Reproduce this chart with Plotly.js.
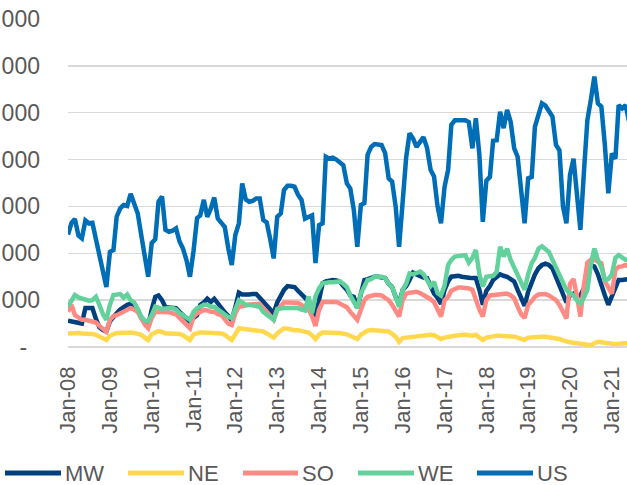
<!DOCTYPE html>
<html>
<head>
<meta charset="utf-8">
<script src="https://cdn.plot.ly/plotly-3.0.1.min.js"></script>
<style>
  html, body { margin: 0; padding: 0; background: #ffffff; }
  #chart { width: 627px; height: 485px; }
</style>
</head>
<body>
<div id="chart"></div>
<script>
// ---- Data (monthly, Jan-2008 .. Jun-2021) ----
const seriesNames = ["MW", "NE", "SO", "WE", "US"];
const startYear = 2008;

const MW = [
  560, 550, 540, 520, 500, 830, 840, 830, 600, 420, 360, 330,
  550, 650, 720, 800, 850, 900, 920, 900, 800, 620, 520, 460,
  800, 1070, 1100, 1000, 850, 850, 850, 830, 750, 680, 600, 540,
  620, 680, 900, 950, 1030, 960, 1030, 920, 850, 740, 660, 570,
  850, 1160, 1120, 1110, 1120, 1130, 1130, 1050, 960, 900, 820, 720,
  950, 1110, 1220, 1300, 1290, 1280, 1200, 1140, 1050, 960, 900, 650,
  960, 1360, 1400, 1420, 1430, 1420, 1400, 1300, 1220, 1100, 1070, 830,
  1140, 1430, 1450, 1480, 1500, 1500, 1480, 1470, 1350, 1280, 1070, 920,
  1220, 1300, 1430, 1590, 1550, 1500, 1480, 1470, 1280, 1140, 1050, 920,
  1220, 1400, 1500, 1510, 1520, 1500, 1500, 1480, 1470, 1470, 1220, 900,
  1200, 1300, 1430, 1480, 1550, 1520, 1500, 1450, 1400, 1220, 1050, 880,
  1180, 1400, 1550, 1680, 1750, 1780, 1750, 1680, 1500, 1300, 1150, 950,
  1100, 1140, 1080, 1100, 1250, 1570, 1750, 1720, 1550, 1300, 1100, 900,
  1070, 1250, 1430, 1430, 1450, 1450
];

const NE = [
  290, 300, 310, 300, 290, 290, 290, 280, 260, 230, 180, 150,
  240, 280, 300, 300, 310, 310, 310, 300, 280, 260, 200, 150,
  270, 310, 340, 320, 290, 290, 290, 290, 280, 250, 200, 150,
  270, 300, 310, 310, 310, 300, 290, 290, 290, 260, 200, 150,
  270, 400, 390, 380, 380, 370, 370, 360, 330, 290, 240, 200,
  290, 350, 400, 390, 370, 360, 360, 350, 330, 310, 250, 170,
  260, 310, 310, 300, 300, 300, 300, 290, 270, 240, 210, 170,
  260, 300, 350, 360, 350, 340, 340, 340, 330, 280, 220, 110,
  190, 200, 210, 220, 220, 230, 240, 250, 260, 250, 200, 170,
  200, 220, 230, 240, 250, 260, 260, 250, 240, 260, 200, 150,
  200, 220, 230, 240, 240, 240, 230, 220, 220, 200, 170, 150,
  200, 210, 210, 220, 220, 220, 210, 200, 190, 170, 140, 110,
  100, 90, 80, 70, 60, 50, 40, 80, 110, 100, 90, 80,
  60, 60, 70, 70, 80, 80
];

const SO = [
  750, 900, 680, 620, 580, 580, 560, 540, 520, 450, 400, 330,
  580, 660, 680, 720, 750, 780, 830, 800, 750, 620, 480, 400,
  620, 750, 750, 750, 750, 740, 720, 700, 620, 550, 450, 400,
  650, 720, 750, 790, 780, 750, 750, 700, 680, 600, 500, 470,
  720, 860, 880, 900, 900, 910, 920, 920, 830, 750, 650, 580,
  790, 880, 950, 950, 950, 940, 940, 900, 830, 800, 650, 450,
  790, 960, 960, 960, 960, 960, 930, 900, 850, 750, 650, 580,
  790, 1000, 1070, 1100, 1110, 1110, 1100, 1050, 1000, 900, 780, 650,
  1000, 1140, 1160, 1180, 1180, 1150, 1110, 1080, 1020, 960, 820, 650,
  1000, 1070, 1200, 1250, 1270, 1270, 1270, 1250, 1220, 1000, 800, 650,
  1000, 1100, 1110, 1120, 1140, 1140, 1140, 1100, 1040, 860, 700, 620,
  900, 980, 1070, 1120, 1130, 1130, 1100, 1050, 1000, 900, 750, 610,
  1350, 1450, 1100, 650, 1300, 1800, 1860, 1860, 1820, 1790, 1400, 1250,
  1140, 1650, 1710, 1720, 1750, 1720
];

const WE = [
  860, 1000, 1110, 1060, 1040, 1000, 990, 1000, 1070, 900, 700, 580,
  900, 1110, 1120, 1130, 1050, 1120, 1000, 950, 810, 650, 560, 550,
  680, 860, 840, 810, 820, 830, 830, 800, 720, 680, 620, 580,
  750, 830, 860, 900, 900, 860, 860, 800, 750, 700, 640, 620,
  810, 1000, 950, 900, 900, 880, 860, 860, 750, 700, 620, 580,
  810, 830, 830, 830, 830, 830, 830, 800, 780, 1080, 720, 1080,
  1250, 1360, 1380, 1380, 1380, 1400, 1400, 1350, 1280, 1100, 950, 830,
  1140, 1300, 1430, 1450, 1500, 1500, 1500, 1470, 1350, 1280, 1050, 860,
  1220, 1350, 1570, 1550, 1580, 1610, 1550, 1400, 1300, 1390, 1150, 1100,
  1310, 1750, 1860, 1930, 1930, 1950, 1960, 1800, 1900, 2070, 1550, 1290,
  1500, 1520, 1520, 1600, 2140, 1930, 2100, 1860, 1700, 1570, 1400, 1220,
  1550, 1790, 1900, 2100, 2150, 2100, 2030, 1860, 1700, 1570, 1400, 1220,
  1150, 1100, 1000, 930, 1050, 1220, 1750, 2100, 1860, 1700, 1430, 1450,
  1550, 1900, 1960, 1900, 1860, 1860
];

const US = [
  2400, 2650, 2730, 2380, 2320, 2700, 2640, 2650, 2300, 1950, 1600, 1280,
  2030, 2070, 2780, 2960, 3030, 3010, 3270, 3070, 2850, 2400, 1950, 1500,
  2220, 2300, 3100, 3210, 2500, 2460, 2480, 2530, 2250, 2100, 1850, 1500,
  2050, 2750, 2810, 3140, 2780, 2950, 3190, 2740, 2650, 2560, 2100, 1750,
  2390, 2640, 3490, 3150, 3100, 3120, 3170, 3170, 2710, 2660, 2300, 1890,
  2780, 2850, 3350, 3440, 3440, 3420, 3250, 3140, 2740, 2780, 2810, 1790,
  2600, 2640, 4060, 4020, 4040, 4000, 3950, 3880, 3490, 3380, 2920, 2140,
  3030, 3070, 4100, 4270, 4330, 4320, 4310, 4140, 3600, 3530, 3000, 2140,
  3100, 4050, 4560, 4450, 4270, 4400, 4480, 4250, 3780, 3640, 3000, 2640,
  3420, 3780, 4740, 4840, 4840, 4840, 4840, 4800, 4240, 4880, 4100, 2670,
  3550, 3630, 4400, 4410, 5020, 4670, 5060, 4810, 4240, 4060, 3300, 2640,
  3600, 3630, 4700, 4950, 5200, 5150, 5050, 4920, 4310, 4200, 3000, 2640,
  3670, 4020, 3280, 2500, 3700, 4840, 5270, 5770, 5200, 5130, 4300, 3280,
  4130, 4020, 5160, 5090, 5160, 4800
];

const yTickVals = [0, 1000, 2000, 3000, 4000, 5000, 6000, 7000];
const yTickText = ["-\u00a0\u00a0", "1,000", "2,000", "3,000", "4,000", "5,000", "6,000", "7,000"];

// ---- Styling ----
const colors = ["#00407F", "#FFD84D", "#FF8A84", "#62D19C", "#006DB7"];
const FONT = "Liberation Sans, Arial, sans-serif";
const TXT = "#595959";

const months = MW.map((_, i) => {
  const y = startYear + Math.floor(i / 12);
  const m = (i % 12) + 1;
  return y + "-" + (m < 10 ? "0" + m : m) + "-01";
});

const allSeries = [MW, NE, SO, WE, US];
const traces = allSeries.map((vals, k) => ({
  x: months,
  y: vals,
  type: "scatter",
  mode: "lines",
  name: seriesNames[k],
  line: { color: colors[k], width: 4.5, shape: "linear" },
  hoverinfo: "skip",
  showlegend: false
}));

// plot box in pixels
const W = 627, H = 485;
const M = { l: 68, r: 0, t: 19, b: 138 };
const plotW = W - M.l - M.r, plotH = H - M.t - M.b;
const px2x = px => (px - M.l) / plotW;
const py2y = py => (H - M.b - py) / plotH;

// custom legend (long line swatches, like the original)
const legendY = 473;
const legendItems = [
  { x0: 5, x1: 61, tx: 64 },
  { x0: 128, x1: 184, tx: 187 },
  { x0: 243, x1: 298, tx: 301 },
  { x0: 358, x1: 414, tx: 417 },
  { x0: 477, x1: 533, tx: 536 }
];
const shapes = legendItems.map((it, k) => ({
  type: "line", xref: "paper", yref: "paper",
  x0: px2x(it.x0), x1: px2x(it.x1), y0: py2y(legendY), y1: py2y(legendY),
  line: { color: colors[k], width: 5 }
}));
const annotations = legendItems.map((it, k) => ({
  xref: "paper", yref: "paper", x: px2x(it.tx), y: py2y(legendY),
  xanchor: "left", yanchor: "middle", showarrow: false,
  text: seriesNames[k], borderpad: 0,
  font: { family: FONT, size: 22, color: TXT }
}));

const layout = {
  width: W, height: H,
  margin: M,
  paper_bgcolor: "#ffffff",
  plot_bgcolor: "#ffffff",
  showlegend: false,
  font: { family: FONT, size: 22, color: TXT },
  xaxis: {
    type: "date",
    range: ["2008-01-01", "2021-05-13"],
    tick0: "2008-01-01",
    dtick: "M12",
    tickformat: "%b-%y",
    tickangle: -90,
    ticks: "",
    showgrid: false,
    showline: false,
    zeroline: false,
    ticklabelstandoff: 14,
    tickfont: { family: FONT, size: 22, color: TXT }
  },
  yaxis: {
    range: [0, 7000],
    tickvals: yTickVals,
    ticktext: yTickText,
    ticks: "",
    showgrid: true,
    gridcolor: "#D9D9D9",
    gridwidth: 1.4,
    zeroline: true,
    zerolinecolor: "#D9D9D9",
    zerolinewidth: 1.6,
    showline: false,
    ticklabelstandoff: 27,
    tickfont: { family: FONT, size: 23, color: TXT }
  },
  shapes: shapes,
  annotations: annotations
};

Plotly.newPlot("chart", traces, layout, { staticPlot: true, displayModeBar: false });
</script>
</body>
</html>
